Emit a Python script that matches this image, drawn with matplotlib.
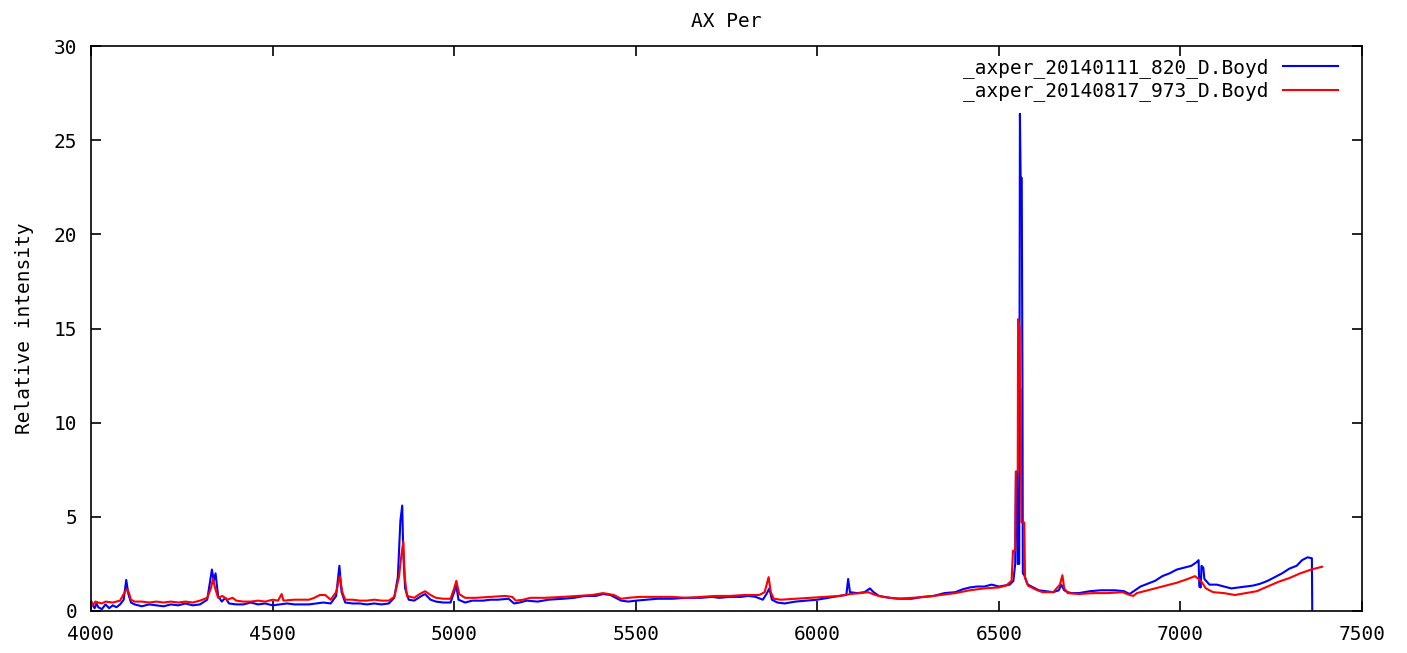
import matplotlib
matplotlib.use("Agg")
import matplotlib.pyplot as plt

# spectrum 1 (blue) -- wavelength / relative intensity
wl_1 = [4000, 4005, 4010, 4015, 4020, 4030, 4040, 4050, 4060, 4070, 4080, 4090, 4097, 4103,
        4110, 4120, 4140, 4160, 4180, 4200, 4220, 4240, 4260, 4280, 4300, 4320, 4333, 4338,
        4343, 4350, 4360, 4370, 4380, 4400, 4420, 4440, 4460, 4480, 4500, 4520, 4540, 4560,
        4580, 4600, 4620, 4640, 4660, 4675, 4684, 4690, 4700, 4720, 4740, 4760, 4780, 4800,
        4820, 4835, 4845, 4852, 4857, 4860, 4865, 4875, 4890, 4910, 4920, 4935, 4950, 4970,
        4990, 5000, 5006, 5012, 5030, 5050, 5080, 5100, 5120, 5150, 5165, 5180, 5200, 5230,
        5260, 5300, 5330, 5360, 5390, 5410, 5430, 5460, 5480, 5500, 5530, 5560, 5600, 5640,
        5680, 5710, 5730, 5760, 5790, 5810, 5830, 5850, 5860, 5868, 5875, 5890, 5910, 5940,
        5970, 6000, 6030, 6060, 6080, 6085, 6090, 6110, 6130, 6145, 6155, 6170, 6200, 6230,
        6260, 6290, 6320, 6350, 6380, 6400, 6420, 6440, 6460, 6480, 6500, 6515, 6530, 6540,
        6545, 6547, 6550, 6552, 6556, 6558, 6560, 6563, 6565, 6566, 6570, 6575, 6580, 6590,
        6610, 6630, 6650, 6665, 6672, 6680, 6690, 6700, 6720, 6750, 6780, 6800, 6820, 6845,
        6860, 6875, 6890, 6910, 6930, 6950, 6970, 6990, 7010, 7030, 7045, 7050, 7052, 7056,
        7058, 7063, 7066, 7080, 7100, 7120, 7140, 7160, 7180, 7200, 7220, 7240, 7260, 7280,
        7300, 7320, 7335, 7350, 7362, 7363]
flux_1 = [0.55, 0.3, 0.15, 0.4, 0.2, 0.1, 0.35, 0.15, 0.3, 0.2, 0.35, 0.6, 1.65, 0.9,
          0.45, 0.35, 0.25, 0.35, 0.3, 0.25, 0.35, 0.3, 0.4, 0.3, 0.35, 0.6, 2.2, 1.6,
          2.0, 0.8, 0.5, 0.7, 0.4, 0.35, 0.35, 0.45, 0.35, 0.4, 0.3, 0.35, 0.4, 0.35,
          0.35, 0.35, 0.4, 0.45, 0.4, 0.8, 2.4, 1.0, 0.45, 0.4, 0.4, 0.35, 0.4, 0.35,
          0.4, 0.7, 1.8, 4.8, 5.6, 3.0, 1.2, 0.6, 0.55, 0.8, 0.9, 0.6, 0.5, 0.45,
          0.45, 1.0, 1.35, 0.6, 0.45, 0.55, 0.55, 0.6, 0.6, 0.65, 0.4, 0.45, 0.55, 0.5,
          0.6, 0.65, 0.7, 0.8, 0.8, 0.9, 0.85, 0.55, 0.5, 0.55, 0.6, 0.65, 0.65, 0.7,
          0.7, 0.75, 0.7, 0.75, 0.75, 0.8, 0.75, 0.6, 0.9, 1.2, 0.6, 0.45, 0.4, 0.5,
          0.55, 0.6, 0.7, 0.8, 0.85, 1.7, 1.0, 0.95, 1.0, 1.2, 1.0, 0.8, 0.7, 0.65,
          0.65, 0.75, 0.8, 0.95, 1.0, 1.15, 1.25, 1.3, 1.3, 1.4, 1.3, 1.35, 1.4, 1.6,
          2.5, 7.4, 7.4, 2.5, 2.5, 26.4, 23.0, 23.0, 11.8, 2.0, 1.9, 1.6, 1.4, 1.3,
          1.1, 1.05, 1.0, 1.1, 1.4, 1.1, 1.0, 0.95, 0.95, 1.05, 1.1, 1.1, 1.1, 1.05,
          0.9, 1.1, 1.3, 1.45, 1.6, 1.85, 2.0, 2.2, 2.3, 2.4, 2.6, 2.7, 1.3, 1.25,
          2.4, 2.3, 1.7, 1.4, 1.4, 1.3, 1.2, 1.25, 1.3, 1.35, 1.45, 1.6, 1.8, 2.0,
          2.25, 2.4, 2.7, 2.85, 2.8, 0.0]

# spectrum 2 (red)
wl_2 = [4000, 4005, 4012, 4020, 4030, 4040, 4060, 4080, 4090, 4098, 4104, 4110, 4120, 4140,
        4160, 4180, 4200, 4220, 4240, 4260, 4280, 4300, 4320, 4330, 4336, 4342, 4350, 4362,
        4375, 4390, 4400, 4420, 4440, 4460, 4480, 4500, 4515, 4525, 4530, 4560, 4580, 4600,
        4615, 4630, 4645, 4660, 4675, 4685, 4692, 4700, 4720, 4740, 4760, 4780, 4800, 4820,
        4835, 4848, 4855, 4860, 4864, 4870, 4890, 4905, 4920, 4935, 4950, 4970, 4990, 5000,
        5006, 5014, 5030, 5060, 5100, 5140, 5160, 5170, 5190, 5210, 5250, 5300, 5340, 5380,
        5410, 5440, 5460, 5480, 5510, 5550, 5600, 5640, 5680, 5720, 5760, 5800, 5840, 5855,
        5866, 5872, 5880, 5900, 5940, 5980, 6020, 6060, 6090, 6120, 6140, 6160, 6180, 6220,
        6260, 6300, 6340, 6380, 6420, 6460, 6500, 6520, 6535, 6539, 6545, 6547, 6552, 6553,
        6557, 6558, 6560, 6562, 6570, 6572, 6580, 6600, 6620, 6650, 6668, 6675, 6680, 6690,
        6720, 6760, 6800, 6840, 6860, 6870, 6880, 6910, 6950, 6990, 7020, 7040, 7050, 7060,
        7070, 7090, 7120, 7150, 7180, 7210, 7240, 7270, 7300, 7330, 7360, 7390]
flux_2 = [0.5, 0.3, 0.5, 0.45, 0.4, 0.5, 0.45, 0.55, 0.9, 1.15, 1.0, 0.6, 0.5, 0.5,
          0.45, 0.5, 0.45, 0.5, 0.45, 0.5, 0.45, 0.55, 0.7, 1.2, 1.7, 1.2, 0.7, 0.8,
          0.6, 0.7, 0.55, 0.5, 0.5, 0.55, 0.5, 0.6, 0.55, 0.9, 0.55, 0.6, 0.6, 0.6,
          0.7, 0.85, 0.85, 0.6, 1.0, 1.85, 1.0, 0.6, 0.6, 0.55, 0.55, 0.6, 0.55, 0.55,
          0.75, 1.8, 3.0, 3.7, 1.8, 0.8, 0.7, 0.9, 1.05, 0.85, 0.7, 0.65, 0.65, 1.2,
          1.6, 0.9, 0.7, 0.7, 0.75, 0.8, 0.75, 0.55, 0.6, 0.7, 0.7, 0.75, 0.8, 0.85,
          0.95, 0.85, 0.65, 0.7, 0.75, 0.75, 0.75, 0.7, 0.75, 0.8, 0.8, 0.85, 0.85, 1.0,
          1.8, 1.0, 0.65, 0.6, 0.65, 0.7, 0.75, 0.8, 0.9, 0.95, 1.0, 0.85, 0.75, 0.65,
          0.7, 0.75, 0.85, 0.95, 1.1, 1.2, 1.25, 1.35, 1.6, 3.2, 3.2, 7.4, 7.4, 15.5,
          15.0, 11.8, 11.8, 4.7, 4.7, 1.8, 1.35, 1.15, 1.0, 1.0, 1.4, 1.9, 1.2, 0.95,
          0.9, 0.95, 0.95, 1.0, 0.85, 0.8, 0.95, 1.1, 1.3, 1.5, 1.7, 1.85, 1.7, 1.5,
          1.2, 1.0, 0.95, 0.85, 0.95, 1.05, 1.3, 1.55, 1.75, 2.0, 2.2, 2.35]

# labels start with "_" so the legend gets them passed explicitly
label_1 = "_axper_20140111_820_D.Boyd"
label_2 = "_axper_20140817_973_D.Boyd"

plt.rcParams['font.family'] = ['DejaVu Sans Mono']
plt.rcParams['font.size'] = 14

fig = plt.figure(figsize=(14.07, 6.53), dpi=100)
ax = fig.add_axes([91 / 1407, 42 / 653, 1271 / 1407, 565 / 653])

line_1, = ax.plot(wl_1, flux_1, color='#0000ff', lw=1.5)
line_2, = ax.plot(wl_2, flux_2, color='#ff0000', lw=1.5)

ax.set_xlim(4000, 7500)
ax.set_ylim(0, 30)
ax.set_xticks(range(4000, 7501, 500))
ax.set_yticks(range(0, 31, 5))
ax.tick_params(direction='in', length=7, width=1.2, top=True, right=True,
               labelsize=14, pad=10)
for s in ax.spines.values():
    s.set_linewidth(1.2)

ax.set_title("AX Per", fontsize=14, pad=14)
ax.set_ylabel("Relative intensity", fontsize=14, labelpad=14)

ax.legend([line_1, line_2], [label_1, label_2], loc='upper right', frameon=False,
          markerfirst=False, fontsize=14, handlelength=2.8, handletextpad=0.75,
          labelspacing=0.2, bbox_to_anchor=(0.99, 1.0), borderaxespad=0.2)

fig.savefig("out.png", dpi=100)
